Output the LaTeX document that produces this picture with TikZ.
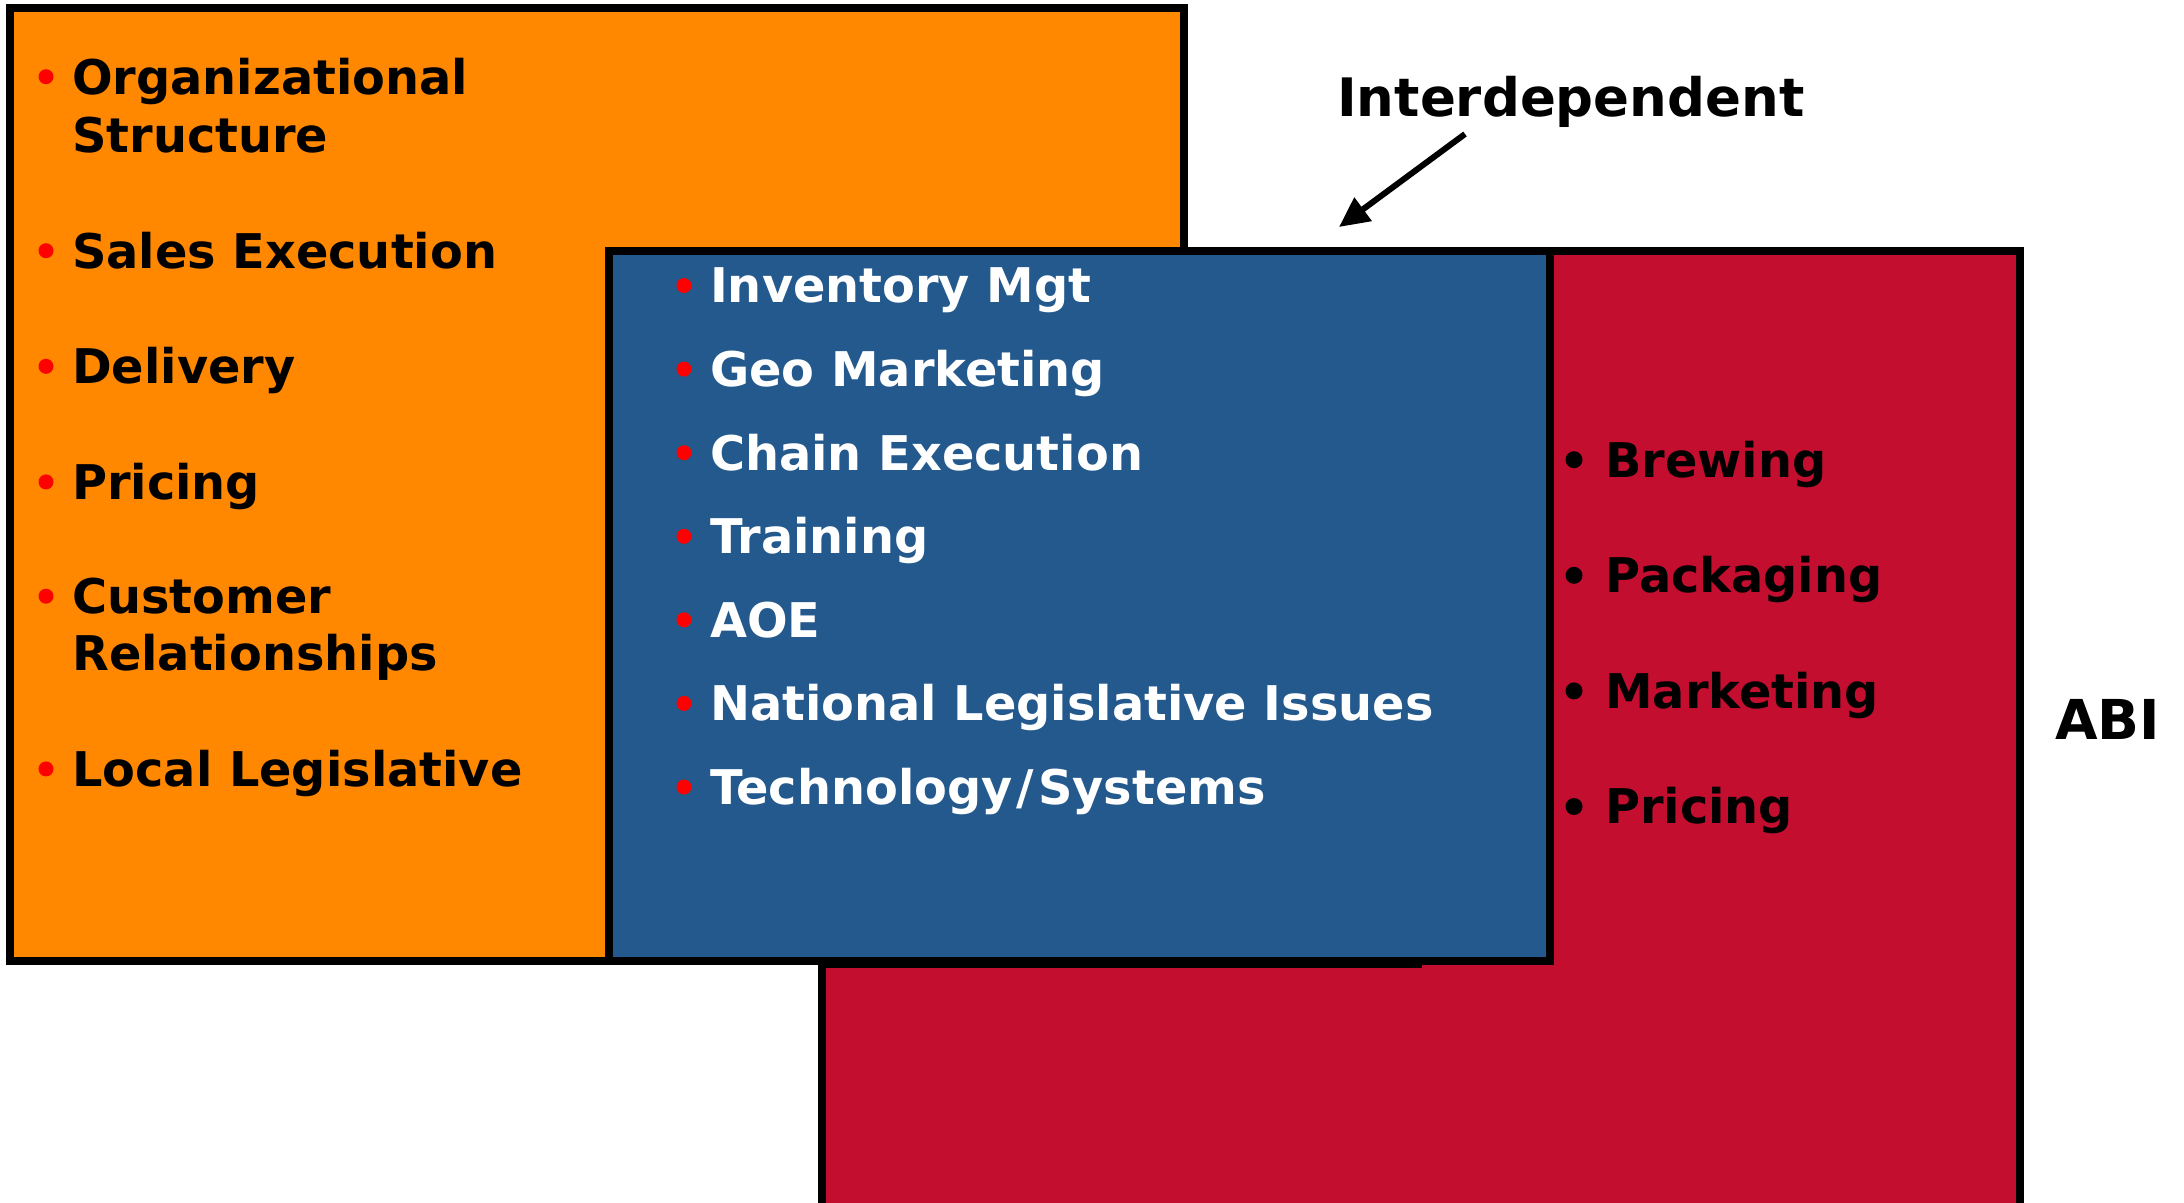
\documentclass[tikz,border=0pt]{standalone}
\usepackage{fontspec}
\setmainfont{DejaVu Sans}
\usetikzlibrary{arrows.meta}
\definecolor{boxorange}{RGB}{255,136,0}
\definecolor{boxblue}{RGB}{35,89,140}
\definecolor{boxred}{RGB}{196,14,48}
\definecolor{dotred}{RGB}{255,0,0}
\begin{document}
\begin{tikzpicture}[x=1pt,y=-1pt,
  panel/.style={draw=black, line width=8pt},
  item/.style={anchor=base west, inner sep=0pt, font=\bfseries\fontsize{47.8}{58}\selectfont},
  label/.style={anchor=base west, inner sep=0pt, font=\bfseries\fontsize{#1}{#1}\selectfont},
  dot/.style={circle, fill=#1, inner sep=0pt, minimum size=15pt},
  pointer/.style={line width=6pt, -{Triangle[length=30pt,width=28pt]}}]
\useasboundingbox (0,0) rectangle (2184,1202);

% panels
\draw[panel, fill=boxorange] (10,8) rectangle (1184,961);
\draw[panel, fill=boxred] (822,251) rectangle (2020,1220);
\draw[panel] (822,251) rectangle (1418,964);
\draw[panel, fill=boxblue] (609,251) rectangle (1550,961);

% left list
\foreach \y/\name/\txt in {94/o1/Organizational, 268/o2/Sales Execution, 383.6/o3/Delivery,
    499.2/o4/Pricing, 613.5/o5/Customer, 786.2/o6/Local Legislative} {
  \node[dot=dotred] (\name d) at (46,\y-17.3) {};
  \node[item] (\name) at (72,\y) {\txt};
}
\node[item] (o1b) at (72,152.4) {Structure};
\node[item] (o5b) at (72,670.6) {Relationships};

% middle list
\foreach \y/\name/\txt in {302.8/b1/Inventory Mgt, 386.4/b2/Geo Marketing, 470/b3/Chain Execution,
    553.6/b4/Training, 637.1/b5/AOE, 720.7/b6/National Legislative Issues,
    804.3/b7/{Technology\kern4pt/\kern4pt Systems}} {
  \node[dot=dotred] (\name d) at (684,\y-17.3) {};
  \node[item, text=white] (\name) at (710,\y) {\txt};
}

% right list
\foreach \y/\name/\txt in {477/r1/Brewing, 592.6/r2/Packaging, 708.2/r3/Marketing, 823.8/r4/Pricing} {
  \node[dot=black, minimum size=17pt] (\name d) at (1574,\y-17.3) {};
  \node[item] (\name) at (1605,\y) {\txt};
}

% labels
\node[label=53] (interdep) at (1337,116.5) {Interdependent};
\node[label=55] (abi) at (2055,739) {ABI};

\coordinate (tail) at (1465,134);
\coordinate (tip) at (1339,227);
\draw[pointer] (tail) -- (tip);
\end{tikzpicture}
\end{document}
